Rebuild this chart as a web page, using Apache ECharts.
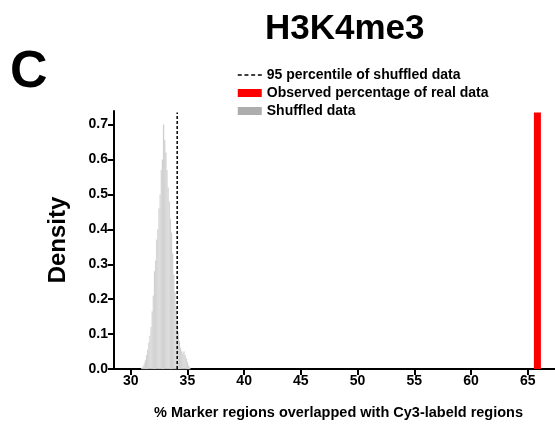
<!DOCTYPE html>
<html><head><meta charset="utf-8">
<script src="https://cdn.jsdelivr.net/npm/echarts@6/dist/echarts.min.js"></script>
<style>html,body{margin:0;padding:0;background:#fff}#c{width:555px;height:425px}</style>
</head><body><div id="c"></div>
<script>
// Histogram of shuffled data (bin centers, density)
const binCenters = [31.0,31.1,31.2,31.3,31.4,31.5,31.6,31.7,31.8,31.9,
  32.0,32.1,32.2,32.3,32.4,32.5,32.6,32.7,32.8,32.9,
  33.0,33.1,33.2,33.3,33.4,33.5,33.6,33.7,33.8,33.9,
  34.0,34.1,34.2,34.3,34.4,34.5,34.6,34.7,34.8,34.9,
  35.0,35.1,35.2];
const density = [0.003,0.008,0.015,0.025,0.04,0.055,0.075,0.095,0.12,0.165,
  0.21,0.28,0.31,0.37,0.40,0.46,0.50,0.57,0.60,0.70,
  0.655,0.62,0.57,0.52,0.48,0.43,0.39,0.33,0.27,0.22,
  0.18,0.14,0.105,0.08,0.06,0.05,0.045,0.05,0.04,0.03,
  0.02,0.01,0.004];
const binWidth = 0.1;
const percentile95 = 34.1;
const observed = 65.85;
const lineTop = 0.735;
const xTicks = [30,35,40,45,50,55,60,65];
const yTicks = [0,0.1,0.2,0.3,0.4,0.5,0.6,0.7];

const histData = binCenters.map((x,i)=>[x, density[i]]);
const chart = echarts.init(document.getElementById('c'));
const font = 'Liberation Sans, Arial, sans-serif';
chart.setOption({
  animation:false,
  title:[
    {text:'H3K4me3', left:260, top:7, textStyle:{fontFamily:font, fontWeight:'bold', fontSize:35, color:'#000'}},
    {text:'C', left:5, top:42, textStyle:{fontFamily:font, fontWeight:'bold', fontSize:52, color:'#000'}}
  ],
  legend:{
    orient:'vertical', left:232, top:63, itemWidth:24, itemHeight:8, itemGap:4,
    textStyle:{fontFamily:font, fontWeight:'bold', fontSize:14, color:'#000'},
    data:[
      {name:'95 percentile of shuffled data', itemStyle:{color:'rgba(0,0,0,0)', borderWidth:0, opacity:0}, lineStyle:{type:[4,2.7], width:1.5}},
      {name:'Observed percentage of real data', icon:'rect', itemStyle:{color:'#ff0000'}},
      {name:'Shuffled data', icon:'rect', itemStyle:{color:'#adadad'}}
    ]
  },
  grid:{left:114, right:0, top:111, bottom:56},
  xAxis:{
    type:'value', min:28.53, max:67.4,
    name:'% Marker regions overlapped with Cy3-labeld regions',
    nameLocation:'middle', nameGap:36,
    nameTextStyle:{fontFamily:font, fontWeight:'bold', fontSize:14.5, color:'#000', padding:[0,0,0,8]},
    axisLine:{lineStyle:{color:'#000', width:2}},
    axisTick:{customValues:xTicks, length:6, lineStyle:{color:'#000', width:2}},
    axisLabel:{customValues:xTicks, fontFamily:font, fontWeight:'bold', fontSize:14, color:'#000', margin:5},
    splitLine:{show:false}
  },
  yAxis:{
    type:'value', min:0, max:0.739,
    name:'Density', nameLocation:'middle', nameGap:44,
    nameTextStyle:{fontFamily:font, fontWeight:'bold', fontSize:24, color:'#000'},
    axisLine:{show:true, lineStyle:{color:'#000', width:2}},
    axisTick:{show:true, customValues:yTicks, length:6, lineStyle:{color:'#000', width:2}},
    axisLabel:{customValues:yTicks, formatter:v=>v.toFixed(1), fontFamily:font, fontWeight:'bold', fontSize:14, color:'#000', margin:6},
    splitLine:{show:false}
  },
  series:[
    {
      name:'Shuffled data', type:'custom', data:histData, itemStyle:{color:'#adadad'},
      renderItem(params, api){
        const x = api.value(0), y = api.value(1);
        const p0 = api.coord([x - binWidth/2, y]);
        const p1 = api.coord([x + binWidth/2, 0]);
        return {type:'rect', shape:{x:p0[0], y:p0[1], width:p1[0]-p0[0], height:p1[1]-p0[1]},
          style:{fill:'#c4c4c4', stroke:'#ececec', lineWidth:0.35}};
      }
    },
    {
      name:'95 percentile of shuffled data', type:'line', symbol:'none', z:5,
      data:[[percentile95,0],[percentile95,lineTop]],
      lineStyle:{color:'#000', width:1.5, type:[3,2]}, itemStyle:{color:'#000'}
    },
    {
      name:'Observed percentage of real data', type:'line', symbol:'none', z:5,
      data:[[observed,0],[observed,lineTop]],
      lineStyle:{color:'#ff0000', width:7, cap:'butt'}, itemStyle:{color:'#ff0000'}
    }
  ]
});
</script></body></html>
